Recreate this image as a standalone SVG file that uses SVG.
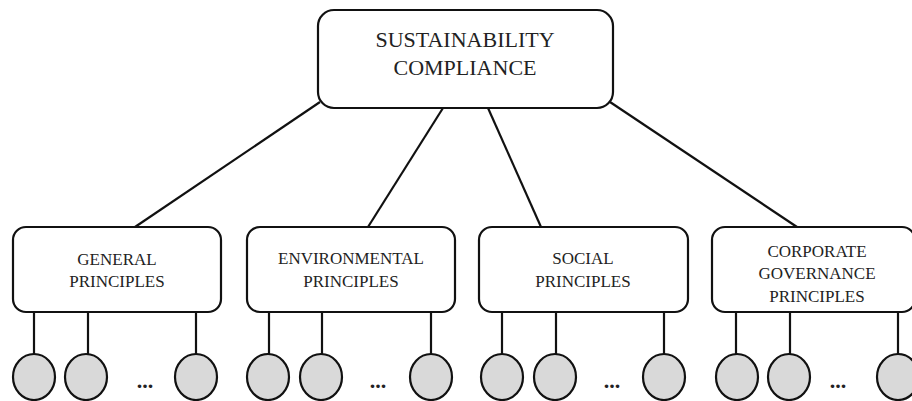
<svg xmlns="http://www.w3.org/2000/svg" width="912" height="401" viewBox="0 0 912 401">
<style>
.box{fill:#fff;stroke:#111;stroke-width:2.2}
.leaf{fill:#d9d9d9;stroke:#111;stroke-width:2.2}
.ln{stroke:#111;stroke-width:2.2;fill:none}
text{font-family:"Liberation Serif","Times New Roman",serif;fill:#222;text-anchor:middle}
.t1{font-size:22px}
.t2{font-size:17px}
.dots{font-size:22px;font-weight:bold}
</style>
<rect width="912" height="401" fill="#fff"/>
<g id="connectors">
<line class="ln" x1="320" y1="102" x2="135" y2="227"/>
<line class="ln" x1="443" y1="108" x2="368" y2="227"/>
<line class="ln" x1="488" y1="108" x2="541" y2="227"/>
<line class="ln" x1="610" y1="102" x2="797" y2="227"/>
<line class="ln" x1="34" y1="312" x2="34" y2="354"/>
<line class="ln" x1="88" y1="312" x2="88" y2="354"/>
<line class="ln" x1="196" y1="312" x2="196" y2="354"/>
<line class="ln" x1="269" y1="312" x2="269" y2="354"/>
<line class="ln" x1="322" y1="312" x2="322" y2="354"/>
<line class="ln" x1="431" y1="312" x2="431" y2="354"/>
<line class="ln" x1="502" y1="312" x2="502" y2="354"/>
<line class="ln" x1="556" y1="312" x2="556" y2="354"/>
<line class="ln" x1="664" y1="312" x2="664" y2="354"/>
<line class="ln" x1="736" y1="312" x2="736" y2="354"/>
<line class="ln" x1="790" y1="312" x2="790" y2="354"/>
<line class="ln" x1="898" y1="312" x2="898" y2="354"/>
</g>
<g id="root">
<rect class="box" x="318" y="10" width="295" height="98" rx="16"/>
<text class="t1" x="465" y="47">SUSTAINABILITY</text>
<text class="t1" x="465" y="75">COMPLIANCE</text>
</g>
<g id="general">
<rect class="box" x="13" y="227" width="208" height="85" rx="13"/>
<text class="t2" x="117" y="265">GENERAL</text>
<text class="t2" x="117" y="287">PRINCIPLES</text>
</g>
<g id="environmental">
<rect class="box" x="247" y="227" width="208" height="85" rx="13"/>
<text class="t2" x="351" y="264">ENVIRONMENTAL</text>
<text class="t2" x="351" y="287">PRINCIPLES</text>
</g>
<g id="social">
<rect class="box" x="479" y="227" width="209" height="85" rx="13"/>
<text class="t2" x="583" y="264">SOCIAL</text>
<text class="t2" x="583" y="287">PRINCIPLES</text>
</g>
<g id="governance">
<rect class="box" x="712" y="227" width="203" height="85" rx="13"/>
<text class="t2" x="817" y="257">CORPORATE</text>
<text class="t2" x="817" y="279">GOVERNANCE</text>
<text class="t2" x="817" y="302">PRINCIPLES</text>
</g>
<g id="leaves-general">
<ellipse class="leaf" cx="34" cy="377" rx="21" ry="23"/>
<ellipse class="leaf" cx="86" cy="377" rx="21" ry="23"/>
<ellipse class="leaf" cx="196" cy="377" rx="21" ry="23"/>
<text class="dots" x="145" y="388">...</text>
</g>
<g id="leaves-environmental">
<ellipse class="leaf" cx="268" cy="377" rx="21" ry="23"/>
<ellipse class="leaf" cx="321" cy="377" rx="21" ry="23"/>
<ellipse class="leaf" cx="431" cy="377" rx="21" ry="23"/>
<text class="dots" x="378" y="388">...</text>
</g>
<g id="leaves-social">
<ellipse class="leaf" cx="502" cy="377" rx="21" ry="23"/>
<ellipse class="leaf" cx="555" cy="377" rx="21" ry="23"/>
<ellipse class="leaf" cx="664" cy="377" rx="21" ry="23"/>
<text class="dots" x="612" y="388">...</text>
</g>
<g id="leaves-governance">
<ellipse class="leaf" cx="737" cy="377" rx="21" ry="23"/>
<ellipse class="leaf" cx="789" cy="377" rx="21" ry="23"/>
<ellipse class="leaf" cx="898" cy="377" rx="21" ry="23"/>
<text class="dots" x="838" y="388">...</text>
</g>
</svg>
